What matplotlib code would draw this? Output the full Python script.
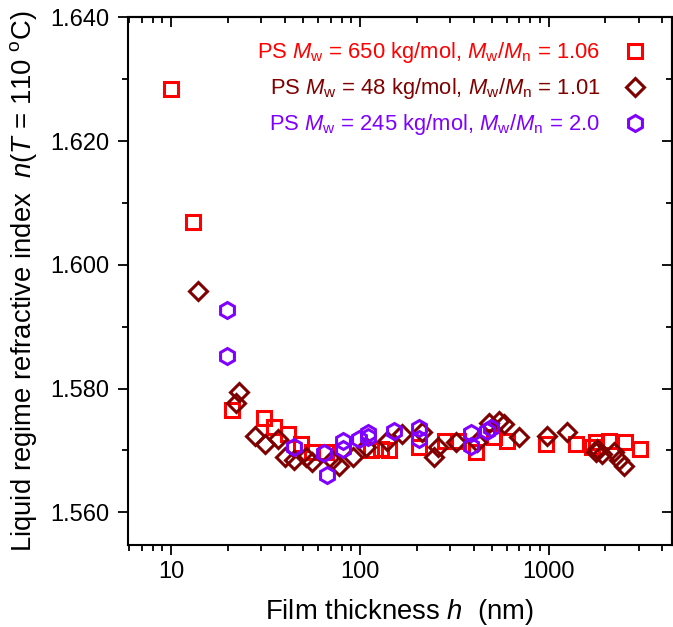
import matplotlib
matplotlib.use("Agg")
import matplotlib.pyplot as plt
from matplotlib.ticker import LogLocator, FixedLocator, MultipleLocator, FuncFormatter, NullFormatter

plt.rcParams['font.family'] = ['Liberation Sans', 'DejaVu Sans']
plt.rcParams['mathtext.fontset'] = 'custom'
plt.rcParams['mathtext.rm'] = 'Liberation Sans'
plt.rcParams['mathtext.it'] = 'Liberation Sans:italic'
plt.rcParams['mathtext.bf'] = 'Liberation Sans:bold'

# PS Mw = 650 kg/mol (red squares)
h_650 = [10, 13, 21, 31, 35, 41.7, 49, 56, 66, 114, 130, 143, 206, 284, 332, 413, 515, 603, 968, 1396, 1700, 1778, 2085, 2534, 3043]
n_650 = [1.6285, 1.6070, 1.5766, 1.5752, 1.5738, 1.5727, 1.5711, 1.5698, 1.5698, 1.5700, 1.5702, 1.5700, 1.5706, 1.5715, 1.5715, 1.5697, 1.5721, 1.5715, 1.5710, 1.5710, 1.5706, 1.5713, 1.5715, 1.5713, 1.5703]

# PS Mw = 48 kg/mol (dark red diamonds)
h_48 = [13.9, 22.0, 22.9, 27.8, 31.4, 36.7, 40, 45, 52, 55.6, 71, 78, 91.5, 108, 140, 168, 214, 258, 248, 324, 419, 485, 547, 581, 698, 982, 1251, 1780, 1803, 1914, 2213, 2353, 2502]
n_48 = [1.5958, 1.5777, 1.5794, 1.5723, 1.5710, 1.5718, 1.5690, 1.5685, 1.5690, 1.5681, 1.5685, 1.5674, 1.5689, 1.5705, 1.5715, 1.5726, 1.5729, 1.5706, 1.5689, 1.5713, 1.5713, 1.5745, 1.5747, 1.5742, 1.5721, 1.5723, 1.5729, 1.5697, 1.5702, 1.5694, 1.5697, 1.5685, 1.5674]

# PS Mw = 245 kg/mol (violet hexagons)
h_245 = [19.8, 19.8, 44.7, 65, 67, 81, 81, 99.6, 111, 111, 151, 206, 206, 386, 386, 473, 495]
n_245 = [1.5927, 1.5852, 1.5705, 1.5696, 1.5661, 1.5715, 1.5702, 1.5718, 1.5728, 1.5721, 1.5732, 1.5736, 1.5718, 1.5728, 1.5707, 1.5732, 1.5736]

labels = [r'PS $M_\mathrm{w}$ = 650 kg/mol, $M_\mathrm{w}$/$M_\mathrm{n}$ = 1.06',
          r'PS $M_\mathrm{w}$ = 48 kg/mol, $M_\mathrm{w}$/$M_\mathrm{n}$ = 1.01',
          r'PS $M_\mathrm{w}$ = 245 kg/mol, $M_\mathrm{w}$/$M_\mathrm{n}$ = 2.0']
colors = ['#FF0000', '#800000', '#8000FF']

fig = plt.figure(figsize=(6.73, 6.27), dpi=100)
ax = fig.add_axes([128/673, 1-545/627, (672-128)/673, (545-17.5)/627])

ax.plot(h_650, n_650, ls='none', marker='s', ms=9.5, mfc='none', mec=colors[0], mew=2.2, label=labels[0])
ax.plot(h_48, n_48, ls='none', marker='D', ms=9, mfc='none', mec=colors[1], mew=2.2, label=labels[1])
ax.plot(h_245, n_245, ls='none', marker='h', ms=11.5, mfc='none', mec=colors[2], mew=2.2, label=labels[2])

ax.set_xscale('log')
ax.set_xlim(5.92, 4500)
ax.set_ylim(1.5547, 1.640)

ax.xaxis.set_major_locator(FixedLocator([10, 100, 1000]))
ax.xaxis.set_minor_locator(LogLocator(base=10, subs=range(2, 10)))
ax.xaxis.set_major_formatter(FuncFormatter(lambda v, p: f'{v:g}'))
ax.xaxis.set_minor_formatter(NullFormatter())
ax.yaxis.set_major_locator(MultipleLocator(0.02))
ax.yaxis.set_minor_locator(MultipleLocator(0.01))
ax.yaxis.set_major_formatter(FuncFormatter(lambda v, p: f'{v:.3f}'))

for s in ax.spines.values():
    s.set_linewidth(1.5)
ax.tick_params(which='major', direction='out', length=7.5, width=1.3, labelsize=17)
ax.tick_params(axis='x', which='major', pad=4)
ax.tick_params(axis='y', which='major', pad=6)
ax.tick_params(which='minor', direction='out', length=4.5, width=1.3)

sec_x = ax.secondary_xaxis('top')
sec_x.xaxis.set_major_locator(FixedLocator([10, 100, 1000]))
sec_x.xaxis.set_minor_locator(LogLocator(base=10, subs=range(2, 10)))
sec_x.xaxis.set_major_formatter(NullFormatter())
sec_x.xaxis.set_minor_formatter(NullFormatter())
sec_x.tick_params(which='major', direction='in', length=7.5, width=1.3)
sec_x.tick_params(which='minor', direction='in', length=4.5, width=1.3)
sec_x.spines['top'].set_linewidth(1.5)

sec_y = ax.secondary_yaxis('right')
sec_y.yaxis.set_major_locator(MultipleLocator(0.02))
sec_y.yaxis.set_minor_locator(MultipleLocator(0.01))
sec_y.yaxis.set_major_formatter(NullFormatter())
sec_y.tick_params(which='major', direction='in', length=7.5, width=1.3)
sec_y.tick_params(which='minor', direction='in', length=4.5, width=1.3)
sec_y.spines['right'].set_linewidth(1.5)

ax.set_xlabel(r'Film thickness $h$  (nm)', fontsize=19.8, labelpad=10)
ax.set_ylabel(r'Liquid regime refractive index  $n$($T$ = 110 $\mathrm{^{o}C}$)', fontsize=19.8, labelpad=8)

leg = ax.legend(loc='upper right', bbox_to_anchor=(0.985, 0.99), frameon=False, markerfirst=False,
                fontsize=15.8, handlelength=1.0, handletextpad=1.1, labelspacing=0.5, borderpad=0.3)
for t, c in zip(leg.get_texts(), colors):
    t.set_color(c)

fig.savefig('out.png', dpi=100)
